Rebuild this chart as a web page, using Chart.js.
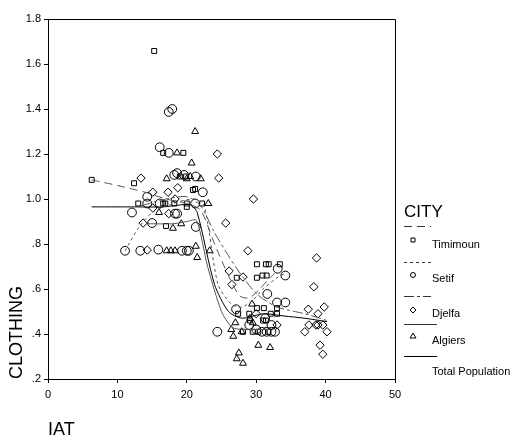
<!DOCTYPE html>
<html>
<head>
<meta charset="utf-8">
<script src="https://cdn.jsdelivr.net/npm/chart.js@4.4.1/dist/chart.umd.min.js"></script>
<style>
html,body{margin:0;padding:0;background:#fff;}
#wrap{width:525px;height:446px;position:relative;}
</style>
</head>
<body>
<div id="wrap"><canvas id="scatterChart" width="525" height="446"></canvas></div>
<script>
// observed points (IAT, CLOTHING) per city
const timimounX=[6.3,15.3,12.4,16.6,19.5,13.0,16.6,18.2,17.0,20.0,20.9,22.2,19.0,19.9,20.0,21.2,16.9,30.1,31.4,31.8,33.4,30.1,30.9,31.5,27.2,27.4,29.0,30.1,31.1,32.1,33.0,33.0,29.1,31.0,31.4,28.1,29.5,30.3,31.7];
const timimounY=[1.085,1.658,1.07,1.205,1.205,0.98,0.98,0.98,0.88,0.98,1.04,0.98,1.10,1.10,0.965,1.045,0.98,0.71,0.71,0.71,0.71,0.65,0.66,0.66,0.65,0.49,0.49,0.515,0.515,0.49,0.515,0.49,0.46,0.46,0.46,0.41,0.41,0.41,0.41];

const setifX=[17.9,17.4,16.1,17.4,18.2,18.6,19.6,21.3,22.3,14.3,14.3,12.1,16.1,18.3,18.6,15.0,21.3,21.2,11.1,13.3,15.9,19.3,20.0,20.3,24.4,31.6,33.0,34.2,33.1,34.2,27.1,30.8,31.5,32.2,32.7,32.2,31.3,29.0,30.0];
const setifY=[1.40,1.387,1.23,1.205,1.107,1.115,1.107,1.10,1.03,1.01,0.98,0.94,0.98,0.935,0.935,0.893,0.876,0.98,0.77,0.77,0.775,0.77,0.77,0.77,0.41,0.578,0.54,0.54,0.69,0.66,0.51,0.41,0.41,0.41,0.41,0.44,0.47,0.44,0.42];

const djelfaX=[13.4,24.4,24.6,15.1,17.3,18.7,13.7,14.3,17.4,15.1,25.6,29.6,28.8,26.1,28.1,26.5,38.7,38.3,37.5,39.8,38.9,37.6,38.6,38.9,39.6,37.0,40.2,39.2,39.6,33.0,30.0,18.3];
const djelfaY=[1.093,1.20,1.093,1.03,1.03,1.05,0.893,0.773,0.935,0.96,0.893,1.0,0.77,0.68,0.653,0.62,0.738,0.61,0.51,0.52,0.49,0.44,0.44,0.44,0.44,0.41,0.41,0.35,0.31,0.44,0.49,1.0];

const algiersX=[21.2,20.7,18.6,17.1,20.0,22.0,23.1,16.0,18.0,19.2,17.1,17.7,18.3,21.3,21.5,23.3,29.4,27.0,26.4,26.7,27.9,30.3,32.0,27.5,27.2,28.1,29.5,29.1,20.5];
const algiersY=[1.30,1.16,1.205,1.09,1.09,1.09,0.98,0.94,0.87,0.89,0.77,0.77,0.77,0.79,0.74,0.77,0.533,0.45,0.42,0.39,0.41,0.35,0.34,0.316,0.29,0.27,0.45,0.47,1.10];

// fit lines
const timimounFitX=[6.3,10,14,17,20,22,24,26,27.6,29,30.5,32,33.4];
const timimounFitY=[1.085,1.06,1.03,1.0,0.98,0.95,0.80,0.66,0.57,0.56,0.60,0.65,0.69];
const setifFitX=[11.1,13,15,18,21,22.5,24.5,26.5,28,29.5,31,33,34.2];
const setifFitY=[0.77,0.87,0.94,0.98,1.0,0.97,0.62,0.53,0.52,0.55,0.60,0.65,0.67];
const djelfaFitX=[13.4,17,20,22,24,27,30,33,37,40.2];
const djelfaFitY=[0.97,1.0,1.01,0.97,0.85,0.70,0.58,0.52,0.49,0.46];
const algiersFitX=[14.4,18,20,21.4,23,25,26.5,28,30,32];
const algiersFitY=[0.89,0.89,0.90,0.905,0.70,0.50,0.43,0.42,0.42,0.42];
const totalFitX=[6.3,12,16.6,20.5,21.5,24,26,28,31,34,37,40.2];
const totalFitY=[0.965,0.965,0.965,0.975,0.94,0.62,0.50,0.47,0.49,0.48,0.47,0.455];

const yTickLabels=[".2",".4",".6",".8","1.0","1.2","1.4","1.6","1.8"];
const xTickLabels=["0","10","20","30","40","50"];

const legendItems=["Timimoun","Setif","Djelfa","Algiers","Total Population"];
const legendStyles=["rect","circle","rectRot","triangle",null];
const legendDash=[[8,5],[3,3],[10,3,3,3],[],[]];

const pts=(xs,ys)=>xs.map((x,i)=>({x:x,y:ys[i]}));

function markerSet(label,xs,ys,style,r){
return {label:label,data:pts(xs,ys),pointStyle:style,pointRadius:r,pointBorderWidth:1,
borderColor:"#000",backgroundColor:"rgba(0,0,0,0)",showLine:false};
}
function fitSet(label,xs,ys,dash,color){
return {label:label,data:pts(xs,ys),showLine:true,pointRadius:0,borderWidth:1,
borderColor:color,borderDash:dash,tension:.25,fill:false};
}

const frameAndLegend={
id:"frameAndLegend",
afterDraw(chart){
const ctx=chart.ctx,a=chart.chartArea;
ctx.save();
ctx.strokeStyle="#000";
ctx.lineWidth=1;
ctx.beginPath();
ctx.moveTo(a.left,a.top+0.5);
ctx.lineTo(a.right+0.5,a.top+0.5);
ctx.lineTo(a.right+0.5,a.bottom);
ctx.stroke();

// legend
ctx.fillStyle="#000";
ctx.textBaseline="middle";
ctx.font="17px 'Liberation Sans', Arial, sans-serif";
ctx.fillText("CITY",404,212);
ctx.font="11px 'Liberation Sans', Arial, sans-serif";
const lx=404,rows=[226,262,296,324,356];
const labelY=[245,279,314,341,372];
const markY=[240,275,310,336];
legendItems.forEach((name,i)=>{
ctx.strokeStyle=i==4?"#000":"#333";
ctx.setLineDash(legendDash[i]);
ctx.beginPath();
ctx.moveTo(lx,rows[i]+0.5);
ctx.lineTo(i<3?431:437,rows[i]+0.5);
ctx.stroke();
ctx.setLineDash([]);
const s=legendStyles[i];
const mx=413,my=markY[i];
ctx.strokeStyle="#000";
ctx.beginPath();
if(s=="rect"){ctx.rect(mx-2,my-2,4,4);}
if(s=="circle"){ctx.arc(mx,my,2.5,0,Math.PI*2);}
if(s=="rectRot"){ctx.moveTo(mx,my-3);ctx.lineTo(mx+3,my);ctx.lineTo(mx,my+3);ctx.lineTo(mx-3,my);ctx.closePath();}
if(s=="triangle"){ctx.moveTo(mx,my-3);ctx.lineTo(mx+3,my+2);ctx.lineTo(mx-3,my+2);ctx.closePath();}
if(s)ctx.stroke();
ctx.fillText(name,432,labelY[i]);
});
ctx.restore();
}
};

new Chart(document.getElementById("scatterChart"),{
type:"scatter",
data:{
datasets:[
fitSet("Timimoun fit",timimounFitX,timimounFitY,[8,5],"#555"),
fitSet("Setif fit",setifFitX,setifFitY,[3,3],"#555"),
fitSet("Djelfa fit",djelfaFitX,djelfaFitY,[10,3,3,3],"#555"),
fitSet("Algiers fit",algiersFitX,algiersFitY,[],"#555"),
fitSet("Total Population",totalFitX,totalFitY,[],"#000"),
markerSet("Timimoun",timimounX,timimounY,"rect",3.5),
markerSet("Setif",setifX,setifY,"circle",4.4),
markerSet("Djelfa",djelfaX,djelfaY,"rectRot",4.2),
markerSet("Algiers",algiersX,algiersY,"triangle",4)
]
},
options:{
responsive:false,
animation:false,
layout:{padding:{top:19,right:130,left:0,bottom:0}},
plugins:{legend:{display:false},tooltip:{enabled:false}},
scales:{
x:{
type:"linear",
min:0,max:50,
afterFit(s){s.height=67;},
ticks:{stepSize:10,color:"#000",font:{family:"'Liberation Sans', Arial",size:11},padding:5,
callback:(v)=>xTickLabels[Math.round(v/10)]},
grid:{drawOnChartArea:false,drawTicks:true,tickLength:4,color:"#000"},
border:{color:"#000",width:1},
title:{display:true,text:"IAT",align:"start",color:"#000",font:{family:"'Liberation Sans', Arial",size:18},padding:{top:0,bottom:5}}
},
y:{
type:"linear",
min:0.2,max:1.8,
afterFit(s){s.width=48;},
ticks:{stepSize:0.2,color:"#000",font:{family:"'Liberation Sans', Arial",size:11},padding:3,
callback:(v)=>yTickLabels[Math.round((v-0.2)/0.2)]},
grid:{drawOnChartArea:false,drawTicks:true,tickLength:4,color:"#000"},
border:{color:"#000",width:1},
title:{display:true,text:"CLOTHING",align:"start",color:"#000",font:{family:"'Liberation Sans', Arial",size:18},padding:{top:6,bottom:0}}
}
}
},
plugins:[frameAndLegend]
});
</script>
</body>
</html>
